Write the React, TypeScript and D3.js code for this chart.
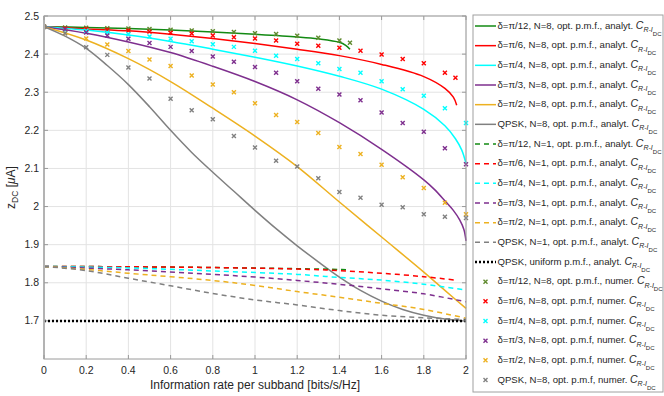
import React, { useRef, useEffect } from "react";
import * as d3 from "d3";

// analytic curves, N=8 (solid)
const xG8 = [0, 0.2, 0.4, 0.6, 0.8, 1.0, 1.2, 1.3, 1.4, 1.43, 1.45];
const yG8 = [2.472, 2.47, 2.467, 2.463, 2.458, 2.452, 2.445, 2.44, 2.431, 2.423, 2.413];
const xR8 = [0, 0.2, 0.4, 0.6, 0.8, 1.0, 1.2, 1.4, 1.6, 1.8, 1.9, 1.94, 1.956];
const yR8 = [2.472, 2.466, 2.461, 2.452, 2.441, 2.428, 2.413, 2.396, 2.373, 2.341, 2.31, 2.287, 2.266];
const xC8 = [0, 0.2, 0.4, 0.6, 0.8, 1.0, 1.2, 1.4, 1.6, 1.8, 1.9, 1.95, 1.98, 2.0];
const yC8 = [2.472, 2.463, 2.45, 2.433, 2.413, 2.392, 2.369, 2.342, 2.308, 2.255, 2.212, 2.178, 2.148, 2.113];
const xP8 = [0, 0.2, 0.4, 0.6, 0.8, 1.0, 1.2, 1.4, 1.6, 1.8, 1.85, 1.9, 1.94, 1.97, 1.99, 2.0];
const yP8 = [2.472, 2.455, 2.432, 2.404, 2.368, 2.328, 2.28, 2.22, 2.15, 2.07, 2.045, 2.015, 1.99, 1.965, 1.94, 1.91];
const xO8 = [0, 0.2, 0.4, 0.6, 0.8, 1.0, 1.2, 1.4, 1.6, 1.8, 1.9, 2.0];
const yO8 = [2.472, 2.437, 2.388, 2.328, 2.258, 2.185, 2.105, 2.012, 1.92, 1.828, 1.78, 1.733];
const xQ8 = [0, 0.1, 0.2, 0.3, 0.4, 0.5, 0.6, 0.7, 0.8, 0.9, 1.0, 1.1, 1.2, 1.3, 1.4, 1.5, 1.6, 1.7, 1.8, 1.9, 2.0];
const yQ8 = [2.472, 2.447, 2.415, 2.37, 2.32, 2.262, 2.2, 2.142, 2.09, 2.04, 1.99, 1.942, 1.897, 1.855, 1.815, 1.78, 1.752, 1.73, 1.715, 1.705, 1.7];

// analytic curves, N=1 (dashed)
const xG1 = [0, 0.4, 0.8, 1.2, 1.4, 1.45];
const yG1 = [1.843, 1.842, 1.84, 1.837, 1.835, 1.834];
const xR1 = [0, 0.4, 0.8, 1.2, 1.4, 1.6, 1.8, 1.95];
const yR1 = [1.843, 1.842, 1.84, 1.836, 1.832, 1.825, 1.816, 1.807];
const xC1 = [0, 0.4, 0.8, 1.2, 1.4, 1.6, 1.8, 2.0];
const yC1 = [1.843, 1.839, 1.831, 1.822, 1.814, 1.807, 1.796, 1.781];
const xP1 = [0, 0.4, 0.8, 1.0, 1.2, 1.4, 1.6, 1.8, 2.0];
const yP1 = [1.843, 1.834, 1.822, 1.815, 1.806, 1.796, 1.784, 1.771, 1.75];
const xO1 = [0, 0.2, 0.4, 0.8, 1.0, 1.2, 1.4, 1.6, 1.8, 2.0];
const yO1 = [1.843, 1.835, 1.825, 1.806, 1.793, 1.777, 1.762, 1.746, 1.73, 1.707];
const xQ1 = [0, 0.2, 0.4, 0.6, 0.8, 1.0, 1.2, 1.4, 1.6, 1.8, 2.0];
const yQ1 = [1.843, 1.832, 1.812, 1.792, 1.772, 1.755, 1.742, 1.727, 1.715, 1.708, 1.704];

// QPSK uniform (dotted)
const xUni = [0, 2];
const yUni = [1.7, 1.7];

// numerical results, N=8 (x markers)
const xNum = [0, 0.1, 0.2, 0.3, 0.4, 0.5, 0.6, 0.7, 0.8, 0.9, 1.0, 1.1, 1.2, 1.3, 1.4, 1.5, 1.6, 1.7, 1.8, 1.9, 2.0];
const xNumG = [0, 0.1, 0.2, 0.3, 0.4, 0.5, 0.6, 0.7, 0.8, 0.9, 1.0, 1.1, 1.2, 1.3, 1.4, 1.45];
const yNumG = [2.472, 2.47, 2.469, 2.468, 2.467, 2.466, 2.464, 2.462, 2.46, 2.458, 2.455, 2.453, 2.448, 2.443, 2.436, 2.43];
const xNumR = [0, 0.1, 0.2, 0.3, 0.4, 0.5, 0.6, 0.7, 0.8, 0.9, 1.0, 1.1, 1.2, 1.3, 1.4, 1.5, 1.6, 1.7, 1.8, 1.9, 1.95];
const yNumR = [2.472, 2.467, 2.466, 2.464, 2.462, 2.459, 2.456, 2.454, 2.449, 2.444, 2.441, 2.436, 2.427, 2.422, 2.417, 2.409, 2.399, 2.387, 2.376, 2.351, 2.338];
const yNumC = [2.472, 2.463, 2.461, 2.457, 2.452, 2.446, 2.44, 2.434, 2.426, 2.419, 2.409, 2.396, 2.387, 2.376, 2.361, 2.351, 2.329, 2.308, 2.291, 2.258, 2.219];
const yNumP = [2.472, 2.465, 2.457, 2.449, 2.44, 2.429, 2.419, 2.408, 2.394, 2.38, 2.366, 2.351, 2.329, 2.309, 2.294, 2.279, 2.247, 2.219, 2.196, 2.153, 2.111];
const yNumO = [2.472, 2.455, 2.441, 2.425, 2.408, 2.386, 2.369, 2.344, 2.32, 2.3, 2.271, 2.24, 2.222, 2.193, 2.156, 2.138, 2.11, 2.077, 2.049, 2.01, 1.98];
const yNumQ = [2.472, 2.455, 2.418, 2.398, 2.365, 2.336, 2.283, 2.253, 2.229, 2.185, 2.155, 2.12, 2.105, 2.074, 2.038, 2.023, 2.005, 1.998, 1.98, 1.973, 1.97];

const xTicks = [0, 0.2, 0.4, 0.6, 0.8, 1, 1.2, 1.4, 1.6, 1.8, 2];
const yTicks = [1.7, 1.8, 1.9, 2, 2.1, 2.2, 2.3, 2.4, 2.5];

const GREEN = "#138a13";
const GREEN_MK = "#5f8a2e";
const RED = "#ff0000";
const CYAN = "#00ffff";
const PURPLE = "#7e2f8e";
const ORANGE = "#edb120";
const GRAY = "#808080";

const lines = [
  { x: xG8, y: yG8, color: GREEN, dash: null, label: "δ=π/12, N=8, opt. p.m.f., analyt. " },
  { x: xR8, y: yR8, color: RED, dash: null, label: "δ=π/6, N=8, opt. p.m.f., analyt. " },
  { x: xC8, y: yC8, color: CYAN, dash: null, label: "δ=π/4, N=8, opt. p.m.f., analyt. " },
  { x: xP8, y: yP8, color: PURPLE, dash: null, label: "δ=π/3, N=8, opt. p.m.f., analyt. " },
  { x: xO8, y: yO8, color: ORANGE, dash: null, label: "δ=π/2, N=8, opt. p.m.f., analyt. " },
  { x: xQ8, y: yQ8, color: GRAY, dash: null, label: "QPSK, N=8, opt. p.m.f., analyt. " },
  { x: xG1, y: yG1, color: GREEN, dash: "5,4", label: "δ=π/12, N=1, opt. p.m.f., analyt. " },
  { x: xR1, y: yR1, color: RED, dash: "5,4", label: "δ=π/6, N=1, opt. p.m.f., analyt. " },
  { x: xC1, y: yC1, color: CYAN, dash: "5,4", label: "δ=π/4, N=1, opt. p.m.f., analyt. " },
  { x: xP1, y: yP1, color: PURPLE, dash: "5,4", label: "δ=π/3, N=1, opt. p.m.f., analyt. " },
  { x: xO1, y: yO1, color: ORANGE, dash: "5,4", label: "δ=π/2, N=1, opt. p.m.f., analyt. " },
  { x: xQ1, y: yQ1, color: GRAY, dash: "5,4", label: "QPSK, N=1, opt. p.m.f., analyt. " },
  { x: xUni, y: yUni, color: "#000000", dash: "2,2", label: "QPSK, uniform p.m.f., analyt. " },
];

const markers = [
  { x: xNumG, y: yNumG, color: GREEN_MK, label: "δ=π/12, N=8, opt. p.m.f., numer. " },
  { x: xNumR, y: yNumR, color: RED, label: "δ=π/6, N=8, opt. p.m.f, numer. " },
  { x: xNum, y: yNumC, color: CYAN, label: "δ=π/4, N=8, opt. p.m.f, numer. " },
  { x: xNum, y: yNumP, color: PURPLE, label: "δ=π/3, N=8, opt. p.m.f, numer. " },
  { x: xNum, y: yNumO, color: ORANGE, label: "δ=π/2, N=8, opt. p.m.f, numer. " },
  { x: xNum, y: yNumQ, color: GRAY, label: "QPSK, N=8, opt. p.m.f, numer. " },
];

const W = 664;
const H = 396;
const FONT = "'Liberation Sans', Arial, Helvetica, sans-serif";

const App = () => {
  const ref = useRef<SVGSVGElement>(null);

  useEffect(() => {
    const svg = d3.select(ref.current);
    svg.selectAll("*").remove();

    const plot = { left: 44, right: 466, top: 16, bottom: 359 };
    const x = d3.scaleLinear().domain([0, 2]).range([plot.left, plot.right]);
    const y = d3.scaleLinear().domain([1.6, 2.5]).range([plot.bottom, plot.top]);

    svg.append("rect").attr("width", W).attr("height", H).attr("fill", "#fff");

    // grid
    const grid = svg.append("g").attr("stroke", "#e3e3e3").attr("stroke-width", 1);
    xTicks.forEach((t) => {
      grid.append("line").attr("x1", x(t)).attr("x2", x(t)).attr("y1", plot.top).attr("y2", plot.bottom);
    });
    yTicks.forEach((t) => {
      grid.append("line").attr("x1", plot.left).attr("x2", plot.right).attr("y1", y(t)).attr("y2", y(t));
    });

    const clip = svg.append("defs").append("clipPath").attr("id", "plotclip");
    clip
      .append("rect")
      .attr("x", plot.left)
      .attr("y", plot.top - 4)
      .attr("width", plot.right - plot.left + 4)
      .attr("height", plot.bottom - plot.top + 4);

    const body = svg.append("g").attr("clip-path", "url(#plotclip)");

    const lineGen = d3
      .line<[number, number]>()
      .x((d) => x(d[0]))
      .y((d) => y(d[1]))
      .curve(d3.curveCatmullRom.alpha(0.5));

    lines.forEach((s) => {
      const pts = s.x.map((v, i) => [v, s.y[i]] as [number, number]);
      body
        .append("path")
        .attr("d", lineGen(pts))
        .attr("fill", "none")
        .attr("stroke", s.color)
        .attr("stroke-width", s.dash === "2,2" ? 2.5 : 1.5)
        .attr("stroke-dasharray", s.dash);
    });

    const cross = (cx: number, cy: number, r: number) =>
      `M${cx - r},${cy - r}L${cx + r},${cy + r}M${cx - r},${cy + r}L${cx + r},${cy - r}`;

    markers.forEach((s) => {
      body
        .append("g")
        .selectAll("path")
        .data(s.x.map((v, i) => [v, s.y[i]]))
        .enter()
        .append("path")
        .attr("d", (d) => cross(x(d[0]), y(d[1]), 2))
        .attr("stroke", s.color)
        .attr("stroke-width", 1.4)
        .attr("fill", "none");
    });

    // axes box
    const axisColor = "#9a9a9a";
    svg
      .append("rect")
      .attr("x", plot.left)
      .attr("y", plot.top)
      .attr("width", plot.right - plot.left)
      .attr("height", plot.bottom - plot.top)
      .attr("fill", "none")
      .attr("stroke", axisColor)
      .attr("stroke-width", 1);
    svg
      .append("line")
      .attr("x1", plot.left)
      .attr("x2", plot.left)
      .attr("y1", plot.top)
      .attr("y2", plot.bottom)
      .attr("stroke", "#b3b3b3")
      .attr("stroke-width", 2);

    const tickLen = 4;
    const ticks = svg.append("g").attr("stroke", axisColor).attr("stroke-width", 1);
    xTicks.forEach((t) => {
      ticks.append("line").attr("x1", x(t)).attr("x2", x(t)).attr("y1", plot.bottom).attr("y2", plot.bottom - tickLen);
      ticks.append("line").attr("x1", x(t)).attr("x2", x(t)).attr("y1", plot.top).attr("y2", plot.top + tickLen);
    });
    yTicks.forEach((t) => {
      ticks.append("line").attr("x1", plot.left).attr("x2", plot.left + tickLen).attr("y1", y(t)).attr("y2", y(t));
      ticks.append("line").attr("x1", plot.right).attr("x2", plot.right - tickLen).attr("y1", y(t)).attr("y2", y(t));
    });

    // tick labels
    svg
      .append("g")
      .selectAll("text")
      .data(xTicks)
      .enter()
      .append("text")
      .attr("x", (d) => x(d))
      .attr("y", plot.bottom + 15)
      .attr("text-anchor", "middle")
      .style("font-family", FONT)
      .style("font-size", "10.5px")
      .style("fill", "#262626")
      .text((d) => d3.format("~g")(d));

    svg
      .append("g")
      .selectAll("text")
      .data(yTicks)
      .enter()
      .append("text")
      .attr("x", plot.left - 5)
      .attr("y", (d) => y(d) + 3.5)
      .attr("text-anchor", "end")
      .style("font-family", FONT)
      .style("font-size", "10.5px")
      .style("fill", "#262626")
      .text((d) => d3.format("~g")(d));

    // axis labels
    svg
      .append("text")
      .attr("x", (plot.left + plot.right) / 2)
      .attr("y", 389)
      .attr("text-anchor", "middle")
      .style("font-family", FONT)
      .style("font-size", "12px")
      .style("fill", "#262626")
      .text("Information rate per subband [bits/s/Hz]");

    const yl = svg
      .append("text")
      .attr("transform", `translate(15,${(plot.top + plot.bottom) / 2}) rotate(-90)`)
      .attr("text-anchor", "middle")
      .style("font-family", FONT)
      .style("font-size", "12px")
      .style("fill", "#262626");
    yl.append("tspan").text("z");
    yl.append("tspan").attr("dy", 3).style("font-size", "8.5px").text("DC");
    yl.append("tspan").attr("dy", -3).text(" [");
    yl.append("tspan").style("font-style", "italic").text("μ");
    yl.append("tspan").text("A]");

    // legend
    const lg = { left: 473, top: 15, right: 663, bottom: 392 };
    svg
      .append("rect")
      .attr("x", lg.left)
      .attr("y", lg.top)
      .attr("width", lg.right - lg.left)
      .attr("height", lg.bottom - lg.top)
      .attr("fill", "#fff")
      .attr("stroke", "#a0a0a0")
      .attr("stroke-width", 1);

    const entries = [
      ...lines.map((s) => ({ ...s, kind: "line" })),
      ...markers.map((s) => ({ ...s, dash: null, kind: "marker" })),
    ];
    const rowY = d3.scaleLinear().domain([0, entries.length - 1]).range([25, 379]);

    entries.forEach((e, i) => {
      const cy = rowY(i);
      const g = svg.append("g");
      if (e.kind === "line") {
        g.append("line")
          .attr("x1", 475)
          .attr("x2", 496)
          .attr("y1", cy + 1)
          .attr("y2", cy + 1)
          .attr("stroke", e.color)
          .attr("stroke-width", e.dash === "2,2" ? 2.5 : 1.5)
          .attr("stroke-dasharray", e.dash);
      } else {
        g.append("path")
          .attr("d", cross(485.5, cy + 1, 2))
          .attr("stroke", e.color)
          .attr("stroke-width", 1.4)
          .attr("fill", "none");
      }
      const t = g
        .append("text")
        .attr("x", 497.5)
        .attr("y", cy + 3.5)
        .style("font-family", FONT)
        .style("font-size", "9.6px")
        .style("fill", "#262626");
      t.append("tspan").text(e.label);
      t.append("tspan").style("font-style", "italic").style("font-size", "10.5px").text("C");
      t.append("tspan").attr("dy", 3.5).style("font-style", "italic").style("font-size", "7px").text("R-I");
      t.append("tspan").attr("dy", 3.5).style("font-size", "6px").text("DC");
    });
  }, []);

  return (
    <svg
      ref={ref}
      width={W}
      height={H}
      style={{ position: "absolute", left: 0, top: 0, display: "block" }}
    />
  );
};

export default App;
